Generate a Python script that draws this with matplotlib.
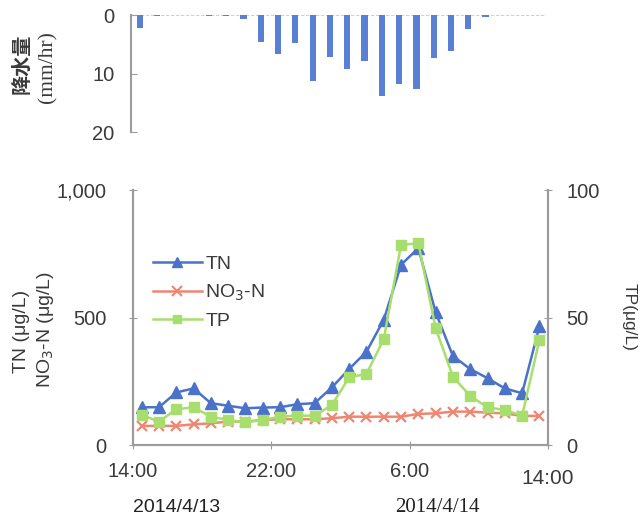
import numpy as np
import matplotlib
matplotlib.use("Agg")
import matplotlib.pyplot as plt
from matplotlib.lines import Line2D

# hourly sampling, hours after 2014/4/13 14:00 (mid-hour)
hours = np.arange(0.5, 24, 1.0)

# rainfall (mm/hr)
rain = [2.2, 0.2, 0.0, 0.0, 0.2, 0.2, 0.6, 4.6, 6.6, 4.7, 11.3, 7.1,
        9.2, 7.9, 13.8, 11.8, 12.6, 7.3, 6.2, 2.4, 0.3, 0.0, 0.0, 0.0]

# concentrations (ug/L)
tn = [148, 148, 206, 222, 164, 154, 144, 147, 148, 160, 164, 226,
      298, 366, 491, 707, 772, 520, 349, 298, 262, 222, 203, 465]
no3n = [75, 75, 75, 81, 85, 92, 92, 98, 101, 101, 101, 105,
        111, 111, 111, 111, 122, 124, 131, 131, 127, 124, 114, 114]
tp = [11.8, 9.2, 14.0, 14.8, 11.1, 9.8, 8.9, 9.8, 11.1, 11.5, 11.5, 15.7,
      26.5, 27.9, 41.5, 78.5, 79.1, 45.8, 26.8, 19.2, 14.8, 13.7, 11.5, 41.2]

time_ticks = [0, 8, 16, 24]
time_labels = ["14:00", "22:00", "6:00", ""]

SANS = "Liberation Sans"
SERIF = "Liberation Serif"
AXIS_GRAY = "#9c9c9c"
TEXT = "#3a3a3a"
c_tn = "#4a72c8"
c_no3 = "#ee8672"
c_tp = "#a8de6e"

plt.rcParams["font.family"] = [SANS, "Noto Sans CJK JP", "DejaVu Sans"]

fig = plt.figure(figsize=(6.41, 5.22), dpi=100)

# ---- rainfall panel (inverted bars) ----
ax_r = fig.add_axes([0.2045, 0.747, 0.6475, 0.224])
ax_r.bar(hours, rain, width=0.36, color="#5a80d6")
ax_r.set_xlim(0, 24)
ax_r.set_ylim(20, 0)
ax_r.set_yticks([0, 10, 20])
ax_r.set_yticklabels(["0", "10", "20"])
ax_r.set_xticks([])
for s in ["top", "right", "bottom"]:
    ax_r.spines[s].set_visible(False)
ax_r.spines["left"].set_color(AXIS_GRAY)
ax_r.spines["left"].set_linewidth(1.5)
ax_r.tick_params(axis="y", direction="in", length=4, color=AXIS_GRAY,
                 labelsize=14.5, labelcolor=TEXT, pad=12)
ax_r.axhline(0, color="#c8c8c8", lw=1.2, ls=(0, (2, 1)), zorder=0)

fig.text(21 / 641, 1 - 64 / 522, "降水量", rotation=90, ha="center", va="center",
         fontsize=14.5, fontweight="bold", family=["Noto Sans CJK JP"], color=TEXT)
fig.text(48 / 641, 1 - 67 / 522, "(mm/hr)", rotation=90, ha="center", va="center",
         fontsize=15.5, family=[SERIF], color=TEXT)

# ---- water quality panel ----
ax = fig.add_axes([0.2075, 0.1475, 0.6475, 0.4885])
ax2 = ax.twinx()

ax.plot(hours, no3n, color=c_no3, lw=1.8, marker="x", ms=7, mew=1.6, zorder=3)
ax.plot(hours, tn, color=c_tn, lw=1.8, marker="^", ms=8, zorder=4)
ax2.plot(hours, tp, color=c_tp, lw=1.8, marker="s", ms=6.5, zorder=3)

ax.set_xlim(0, 24)
ax.set_ylim(0, 1000)
ax2.set_ylim(0, 100)
ax.set_yticks([0, 500, 1000])
ax.set_yticklabels(["0", "500", "1,000"])
ax2.set_yticks([0, 50, 100])
ax2.set_yticklabels(["0", "50", "100"])
ax.set_xticks(time_ticks)
ax.set_xticklabels(time_labels)

for a in (ax, ax2):
    a.spines["top"].set_visible(False)
    for s in ["left", "right", "bottom"]:
        a.spines[s].set_color(AXIS_GRAY)
        a.spines[s].set_linewidth(1.5)
ax.tick_params(axis="y", direction="inout", length=6, color=AXIS_GRAY,
               labelsize=14.5, labelcolor=TEXT, pad=16)
ax.tick_params(axis="x", direction="inout", length=6, color=AXIS_GRAY,
               labelsize=14.5, labelcolor=TEXT, pad=9)
ax2.tick_params(axis="y", direction="inout", length=6, color=AXIS_GRAY,
                labelsize=14.5, labelcolor=TEXT, pad=10)

# last time label sits a touch lower
ax.text(24, -0.13, "14:00", transform=ax.get_xaxis_transform(),
        ha="center", va="center", fontsize=15, color=TEXT)

handles = [
    Line2D([], [], color=c_tn, lw=1.8, marker="^", ms=7),
    Line2D([], [], color=c_no3, lw=1.8, marker="x", ms=6.5, mew=1.5),
    Line2D([], [], color=c_tp, lw=1.8, marker="s", ms=6),
]
ax.legend(handles, ["TN", "NO$_3$-N", "TP"], loc="upper left",
          bbox_to_anchor=(0.048, 0.745), frameon=False, fontsize=14,
          handlelength=2.5, handletextpad=0.2, labelspacing=0.5,
          borderpad=0, borderaxespad=0, labelcolor=TEXT)

fig.text(22 / 641, 1 - 331 / 522, "TN (μg/L)", rotation=90, ha="center",
         va="center", fontsize=14, color=TEXT)
fig.text(46 / 641, 1 - 330 / 522, "NO$_3$-N (μg/L)", rotation=90, ha="center",
         va="center", fontsize=14, color=TEXT)
fig.text(629 / 641, 1 - 317 / 522, "TP(μg/L)", rotation=270, ha="center",
         va="center", fontsize=12.5, color=TEXT)

fig.text(177 / 641, 1 - 508 / 522, "2014/4/13", ha="center", va="center",
         fontsize=14, color="#222222")
fig.text(437 / 641, 1 - 508 / 522, "2014/4/14", ha="center", va="center",
         fontsize=15, family=[SERIF], color="#222222")

fig.savefig("out.png", dpi=100)
